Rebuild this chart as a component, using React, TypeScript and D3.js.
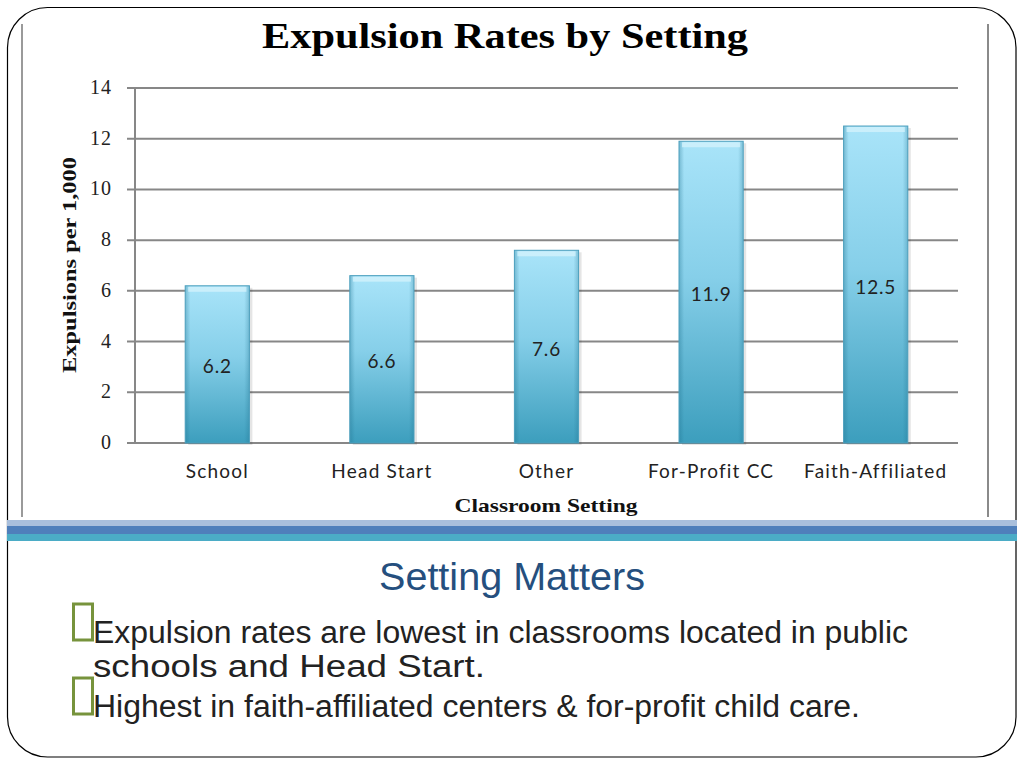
import React from "react";
import * as d3 from "d3";

const categories = ["School", "Head Start", "Other", "For-Profit CC", "Faith-Affiliated"];
const values = [6.2, 6.6, 7.6, 11.9, 12.5];
const yTicks = [0, 2, 4, 6, 8, 10, 12, 14];
const bullets = [
  ["Expulsion rates are lowest in classrooms located in public", "schools and Head Start."],
  ["Highest in faith-affiliated centers & for-profit child care."],
];
const bulletWidths = [[815, 392], [767]];

export default function App() {
  const W = 1024, H = 768;
  const left = 135, right = 958, top = 88, bottom = 443;
  const x = d3.scaleBand<string>().domain(categories).range([left, right]).paddingInner(0.61).paddingOuter(0.305);
  const y = d3.scaleLinear().domain([0, 14]).range([bottom, top]);
  const serif = "'Liberation Serif', 'DejaVu Serif', serif";
  const sans = "Lato, 'Open Sans', sans-serif";
  const arial = "'Liberation Sans', Arial, sans-serif";

  return (
    <svg width={W} height={H} viewBox={`0 0 ${W} ${H}`} style={{ position: "absolute", left: 0, top: 0, background: "#fff" }}>
      <defs>
        <linearGradient id="barV" x1="0" y1="0" x2="0" y2="1">
          <stop offset="0%" stopColor="#a9e4f9" />
          <stop offset="45%" stopColor="#86cfe9" />
          <stop offset="100%" stopColor="#3c9ebd" />
        </linearGradient>
        <linearGradient id="barH" x1="0" y1="0" x2="1" y2="0">
          <stop offset="0%" stopColor="#1d6f8c" stopOpacity="0.35" />
          <stop offset="8%" stopColor="#1d6f8c" stopOpacity="0" />
          <stop offset="92%" stopColor="#1d6f8c" stopOpacity="0" />
          <stop offset="100%" stopColor="#1d6f8c" stopOpacity="0.3" />
        </linearGradient>
      </defs>
      <rect x={0} y={0} width={W} height={H} fill="#fff" />
      {/* slide frame */}
      <rect x={7.5} y={7.5} width={1008.5} height={749.5} rx={40} ry={40} fill="none" stroke="#000" strokeWidth={1.2} />
      <line x1={22} x2={22} y1={24} y2={517} stroke="#9a9a9a" strokeWidth={2} />
      <line x1={988} x2={988} y1={24} y2={517} stroke="#8a8a8a" strokeWidth={2} />

      {/* title */}
      <text x={505} y={48} textAnchor="middle" fontFamily={serif} fontWeight="bold" fontSize={35} fill="#000" textLength={486} lengthAdjust="spacingAndGlyphs">Expulsion Rates by Setting</text>

      {/* grid */}
      {yTicks.map((t) => (
        <g key={t}>
          <line x1={127} x2={right} y1={y(t)} y2={y(t)} stroke="#878787" strokeWidth={2} />
          <text x={112} y={y(t) + 6} textAnchor="end" fontFamily={serif} fontSize={20} letterSpacing={1} fill="#222">{t}</text>
        </g>
      ))}
      <line x1={left} x2={left} y1={top - 1} y2={bottom + 1} stroke="#878787" strokeWidth={2} />

      <text transform="translate(76,265) rotate(-90)" textAnchor="middle" fontFamily={serif} fontWeight="bold" fontSize={19} fill="#111" textLength={216} lengthAdjust="spacingAndGlyphs">Expulsions per 1,000</text>

      {/* bars */}
      {categories.map((c, i) => {
        const bx = x(c)!;
        const bw = x.bandwidth();
        const by = y(values[i]);
        const bh = bottom - by;
        return (
          <g key={c}>
            <rect x={bx + 3} y={by + 2} width={bw} height={bh} fill="#000" opacity={0.1} />
            <rect x={bx} y={by} width={bw} height={bh} fill="url(#barV)" />
            <rect x={bx} y={by} width={bw} height={bh} fill="url(#barH)" />
            <rect x={bx + 3} y={by + 1} width={bw - 6} height={5} fill="#d6f3fc" opacity={0.75} />
            <rect x={bx} y={by} width={bw} height={bh} fill="none" stroke="#4c9fbd" strokeWidth={1} />
            <text x={bx + bw / 2} y={by + bh / 2 + 9} textAnchor="middle" fontFamily={sans} fontSize={19} letterSpacing={0.8} fill="#222">{values[i]}</text>
            <text x={bx + bw / 2} y={478} textAnchor="middle" fontFamily={sans} fontSize={19} letterSpacing={1.2} fill="#222">{c}</text>
          </g>
        );
      })}

      <text x={546} y={512} textAnchor="middle" fontFamily={serif} fontWeight="bold" fontSize={19} fill="#111" textLength={183} lengthAdjust="spacingAndGlyphs">Classroom Setting</text>

      {/* separator band */}
      <rect x={7} y={520} width={1010} height={6} fill="#a9bfdc" />
      <rect x={7} y={526} width={1010} height={8} fill="#4f7fbb" />
      <rect x={7} y={534} width={1010} height={7} fill="#4bacc6" />

      <text x={512} y={590} textAnchor="middle" fontFamily={arial} fontSize={38} fill="#254f7e" textLength={266} lengthAdjust="spacingAndGlyphs">Setting Matters</text>

      {/* bullets */}
      {bullets.map((lines, i) => {
        const by0 = i === 0 ? 643 : 717;
        return (
          <g key={i}>
            <rect x={73.5} y={by0 - 39} width={19} height={36} fill="none" stroke="#77933c" strokeWidth={3} />
            {lines.map((ln, j) => (
              <text key={j} x={93} y={by0 + j * 34} fontFamily={arial} fontSize={31} fill="#222" textLength={bulletWidths[i][j]} lengthAdjust="spacingAndGlyphs">{ln}</text>
            ))}
          </g>
        );
      })}
    </svg>
  );
}
